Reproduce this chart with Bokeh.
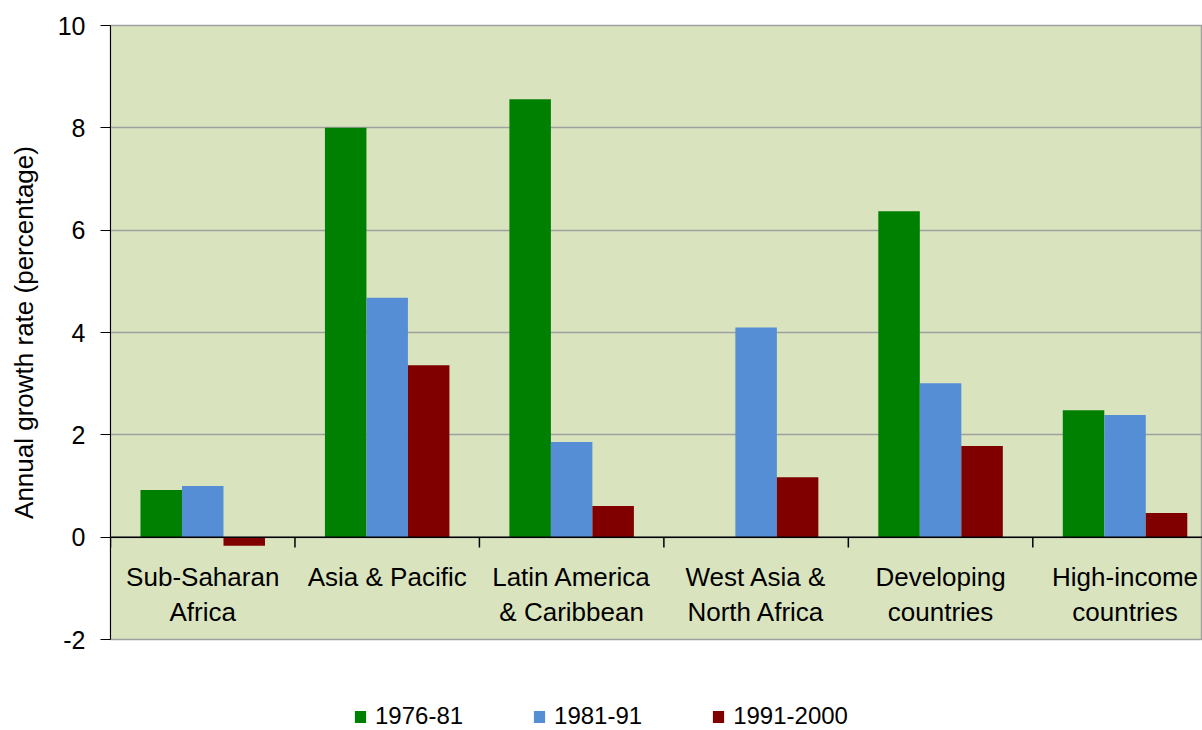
from bokeh.plotting import figure
from bokeh.layouts import column
from bokeh.models import Range1d, Span, Legend, LegendItem, ColumnDataSource, FixedTicker
from bokeh.core.properties import value
from bokeh.embed import file_html
from bokeh.resources import INLINE

categories = ["Sub-Saharan\nAfrica", "Asia & Pacific", "Latin America\n& Caribbean",
              "West Asia &\nNorth Africa", "Developing\ncountries", "High-income\ncountries"]
series_names = ["1976-81", "1981-91", "1991-2000"]
s1976_81 = [0.92, 8.0, 8.56, float("nan"), 6.37, 2.48]
s1981_91 = [1.0, 4.68, 1.86, 4.10, 3.01, 2.39]
s1991_2000 = [-0.17, 3.36, 0.61, 1.17, 1.78, 0.47]
y_ticks = [-2, 0, 2, 4, 6, 8, 10]
y_tick_labels = ["-2", "0", "2", "4", "6", "8", "10"]

colors = ["#008000", "#558ED5", "#800000"]
FONT = "Liberation Sans"

p = figure(frame_width=1092, frame_height=614,
           x_range=Range1d(0, 5.92), y_range=Range1d(-2, 10),
           output_backend="svg", toolbar_location=None,
           min_border_left=110, min_border_right=0, min_border_top=25, min_border_bottom=20)
p.background_fill_color = "#D9E4BF"
p.border_fill_color = "white"
p.outline_line_color = "#A0A0A0"
p.outline_line_width = 1.5

p.xaxis.visible = False
p.xgrid.visible = False
p.ygrid.ticker = FixedTicker(ticks=y_ticks)
p.ygrid.grid_line_color = "#A0A0A0"
p.ygrid.grid_line_width = 1.5

ya = p.yaxis[0]
ya.ticker = FixedTicker(ticks=y_ticks)
ya.major_label_overrides = {t: lab for t, lab in zip(y_ticks, y_tick_labels)}
ya.axis_line_color = "black"
ya.major_tick_line_color = "black"
ya.major_tick_out = 10
ya.major_tick_in = 0
ya.minor_tick_line_color = None
ya.major_label_text_font = FONT
ya.major_label_text_font_size = "25px"
ya.major_label_text_color = "black"
ya.major_label_standoff = 15
ya.axis_label = "Annual growth rate (percentage)"
ya.axis_label_text_font = FONT
ya.axis_label_text_font_size = "26px"
ya.axis_label_text_font_style = "normal"
ya.axis_label_text_color = "black"
ya.axis_label_standoff = 16

n = len(categories)
centers = [i + 0.5 for i in range(n)]
offsets = [-0.225, 0.0, 0.225]
sources = []
for vals, off, col in zip([s1976_81, s1981_91, s1991_2000], offsets, colors):
    src = ColumnDataSource(dict(x=[c + off for c in centers], top=vals))
    sources.append(src)
    p.vbar(x="x", top="top", bottom=0, width=0.225, source=src,
           fill_color=col, line_color=None)

# zero line and category boundary ticks
p.add_layout(Span(location=0, dimension="width", line_color="black", line_width=1.5))
bounds = list(range(n + 1))
p.segment(x0=bounds, x1=bounds, y0=[0] * len(bounds), y1=[-0.2] * len(bounds),
          line_color="black", line_width=1.5)

# category labels
p.text(x=centers, y=[-0.49] * n, text=categories, text_align="center", text_baseline="top",
       text_font=value(FONT), text_font_size="26px", text_color="black", text_line_height=1.15)

# legend strip below the chart (frame aligned with the chart's frame by the column)
lg = figure(width=1202, height=71, x_range=Range1d(0, 1), y_range=Range1d(0, 1),
            output_backend="svg", toolbar_location=None,
            min_border_left=110, min_border_right=0, min_border_top=0, min_border_bottom=0)
lg.axis.visible = False
lg.grid.visible = False
lg.outline_line_color = None
lg.background_fill_color = "white"
lg.border_fill_color = "white"
swatches = [lg.vbar(x="x", top="top", bottom=0, width=0.225, source=src,
                    fill_color=col, line_color=None, visible=False)
            for src, col in zip(sources, colors)]

legend = Legend(items=[LegendItem(label=nm, renderers=[r]) for nm, r in zip(series_names, swatches)],
                orientation="horizontal", location=(243, 0),
                glyph_width=14, glyph_height=15, label_standoff=8, spacing=69,
                padding=0, margin=0, border_line_color=None, background_fill_alpha=0,
                inactive_fill_alpha=0,
                label_text_font=FONT, label_text_font_size="24px", label_text_color="black")
lg.add_layout(legend, "center")

layout = column(p, lg, spacing=0)
open("out.html", "w").write(file_html(layout, INLINE))
